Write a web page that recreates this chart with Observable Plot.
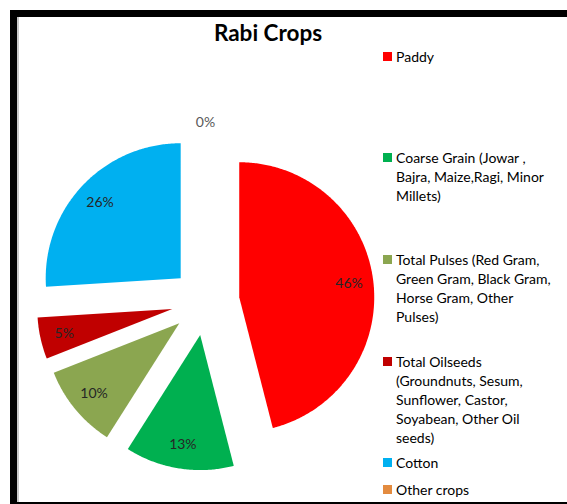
<!DOCTYPE html>
<html>
<head>
<meta charset="utf-8">
<script src="https://cdn.jsdelivr.net/npm/d3@7"></script>
<script src="https://cdn.jsdelivr.net/npm/@observablehq/plot@0.6"></script>
<style>
  html, body { margin: 0; padding: 0; background: #fff; }
  #wrap { position: relative; width: 567px; height: 504px; overflow: hidden; background: #fff; font-family: Lato, "Open Sans", sans-serif; }
  #frame { position: absolute; left: 10px; top: 10px; width: 640px; height: 499px; box-sizing: border-box; border: 7px solid #000; box-shadow: inset 2px 0 0 #c8c8c8; }
  #chart { position: absolute; left: 0; top: 0; }
  #title { position: absolute; left: 168px; width: 200px; top: 19px; text-align: center; font-weight: 700; font-size: 22.5px; color: #000; }
  .item { position: absolute; left: 383px; font-size: 14px; line-height: 19px; color: #000; }
  .sw { position: absolute; left: 0; top: 5px; width: 9px; height: 9px; }
  .txt { margin-left: 13px; white-space: nowrap; }
</style>
</head>
<body>
<div id="wrap">
  <div id="frame"></div>
  <div id="chart"></div>
  <div id="title">Rabi Crops</div>
  <div id="legend"></div>
</div>
<script>
// ---- data ----
const categories = [
  "Paddy",
  "Coarse Grain (Jowar , Bajra, Maize,Ragi, Minor Millets)",
  "Total Pulses (Red Gram, Green Gram, Black Gram, Horse Gram, Other Pulses)",
  "Total Oilseeds (Groundnuts, Sesum, Sunflower, Castor, Soyabean, Other Oil seeds)",
  "Cotton",
  "Other crops"
];
const shares = [46, 13, 10, 5, 26, 0];
const colors = ["#FF0000", "#00B050", "#8BA650", "#C00000", "#00B0F0", "#E38B3F"];
const legendLines = [
  ["Paddy"],
  ["Coarse Grain (Jowar ,", "Bajra, Maize,Ragi, Minor", "Millets)"],
  ["Total Pulses (Red Gram,", "Green Gram, Black Gram,", "Horse Gram, Other", "Pulses)"],
  ["Total Oilseeds", "(Groundnuts, Sesum,", "Sunflower, Castor,", "Soyabean, Other Oil", "seeds)"],
  ["Cotton"],
  ["Other crops"]
];

// ---- layout ----
const W = 567, H = 504;
const CX = 205, CY = 301, R = 135, EXPLODE = 34;
const legendTops = [47, 148, 250, 352, 453, 480];

const arcs = d3.pie().sort(null).value(d => d)(shares);
const pts = [];
const labels = [];
arcs.forEach((a, i) => {
  const mid = (a.startAngle + a.endAngle) / 2;
  const ox = CX + EXPLODE * Math.sin(mid);
  const oy = CY - EXPLODE * Math.cos(mid);
  pts.push({k: categories[i], x: ox, y: oy});
  const n = Math.max(2, Math.ceil((a.endAngle - a.startAngle) / 0.01));
  for (let j = 0; j <= n; j++) {
    const t = a.startAngle + (a.endAngle - a.startAngle) * j / n;
    pts.push({k: categories[i], x: ox + R * Math.sin(t), y: oy - R * Math.cos(t)});
  }
  pts.push({k: categories[i], x: ox, y: oy});
  const lr = shares[i] > 0 ? R * 0.82 : R + 10;
  labels.push({
    x: ox + lr * Math.sin(mid),
    y: oy - lr * Math.cos(mid),
    text: shares[i] + "%",
    zero: shares[i] === 0
  });
});

const plot = Plot.plot({
  width: W,
  height: H,
  margin: 0,
  style: {background: "transparent", overflow: "visible"},
  x: {domain: [0, W], range: [0, W], axis: null},
  y: {domain: [0, H], range: [0, H], axis: null},
  color: {type: "ordinal", domain: categories, range: colors},
  marks: [
    Plot.line(pts, {x: "x", y: "y", z: "k", fill: "k", stroke: "none", curve: "linear"}),
    Plot.text(labels, {
      x: "x", y: "y", text: "text",
      fontSize: 14, fontFamily: "Lato, sans-serif",
      fill: d => d.zero ? "#595959" : "#262626"
    })
  ]
});
document.getElementById("chart").appendChild(plot);

const legend = document.getElementById("legend");
legendLines.forEach((lines, i) => {
  const item = document.createElement("div");
  item.className = "item";
  item.style.top = legendTops[i] + "px";
  const sw = document.createElement("div");
  sw.className = "sw";
  sw.style.background = colors[i];
  item.appendChild(sw);
  const txt = document.createElement("div");
  txt.className = "txt";
  txt.innerHTML = lines.join("<br>");
  item.appendChild(txt);
  legend.appendChild(item);
});
</script>
</body>
</html>
